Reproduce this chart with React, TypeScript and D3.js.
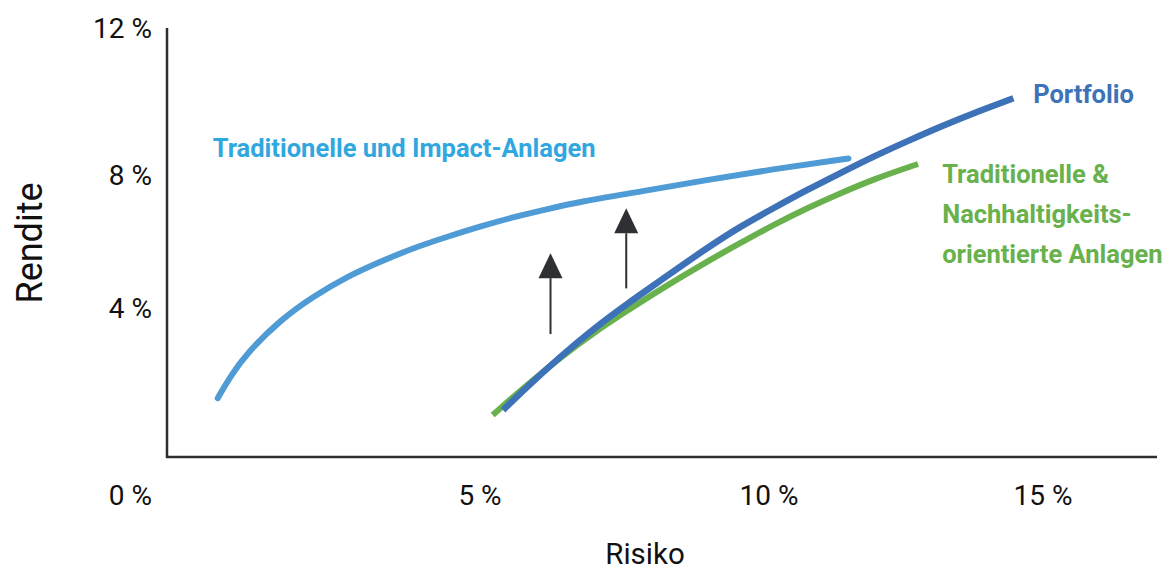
import React from "react";
import * as d3 from "d3";

// Axis ticks
const X_TICKS = [0, 5, 10, 15];
const X_TICK_LABELS = ["0 %", "5 %", "10 %", "15 %"];
const Y_TICKS = [0, 4, 8, 12];
const Y_TICK_LABELS = ["0 %", "4 %", "8 %", "12 %"];

// Series: Traditionelle und Impact-Anlagen
const impactRisk = [0.81, 1.01, 1.27, 1.81, 2.33, 2.87, 3.4, 3.93, 4.47, 5.0, 5.57, 6.15, 6.73, 7.77, 8.92, 10.08, 11.45];
const impactReturn = [1.58, 2.16, 2.78, 3.68, 4.34, 4.94, 5.39, 5.8, 6.14, 6.45, 6.73, 6.97, 7.2, 7.5, 7.85, 8.16, 8.45];

// Series: Traditionelle & Nachhaltigkeitsorientierte Anlagen
const esgRisk = [5.22, 5.81, 6.38, 6.96, 7.54, 8.11, 8.92, 9.5, 10.08, 10.69, 11.3, 11.9, 12.72];
const esgReturn = [1.13, 1.93, 2.66, 3.33, 3.92, 4.55, 5.39, 5.95, 6.5, 7.0, 7.45, 7.87, 8.3];

// Series: Portfolio
const portfolioRisk = [5.4, 5.81, 6.38, 6.96, 7.54, 8.11, 8.92, 9.5, 10.08, 10.69, 11.3, 11.9, 12.51, 13.12, 13.73, 14.46];
const portfolioReturn = [1.26, 1.88, 2.68, 3.44, 4.12, 4.81, 5.8, 6.45, 7.0, 7.55, 8.05, 8.5, 8.91, 9.31, 9.68, 10.09];

// Arrows (risk, from return, to return)
const arrowRisk = [6.22, 7.53];
const arrowFrom = [3.3, 4.59];
const arrowTo = [5.65, 7.0];

// Labels
const impactLabel = ["Traditionelle und Impact-Anlagen"];
const impactLabelPos = [0.73, 8.49];
const portfolioLabel = ["Portfolio"];
const portfolioLabelPos = [14.82, 9.96];
const esgLabel = ["Traditionelle &", "Nachhaltigkeits-", "orientierte Anlagen"];
const esgLabelPos = [13.16, 7.76];

const W = 1166;
const H = 572;

const C_IMPACT = "#4f9bd5";
const C_IMPACT_TEXT = "#30a7df";
const C_PORT = "#3d72b8";
const C_ESG = "#68b14c";
const C_AXIS = "#2c2e32";
const FONT = "Roboto, 'DejaVu Sans', sans-serif";

export default function App() {
  const x = d3.scaleLinear().domain(X_TICKS).range([167, 480, 769, 1043]);
  const y = d3.scaleLinear().domain(Y_TICKS).range([457, 308, 175, 28]);

  const line = d3
    .line<[number, number]>()
    .x((d) => x(d[0]))
    .y((d) => y(d[1]))
    .curve(d3.curveBasis);

  const zip = (a: number[], b: number[]) => a.map((v, i) => [v, b[i]] as [number, number]);

  const x0 = x(0);
  const y0 = y(0);
  const xAxisEnd = 1157;
  const tickLabelRight = x0 - 15;
  const xLabelBaseline = y0 + 48;

  return (
    <svg
      width={W}
      height={H}
      viewBox={`0 0 ${W} ${H}`}
      style={{ position: "absolute", left: 0, top: 0, display: "block", background: "#fff" }}
      fontFamily={FONT}
    >
      {/* axes */}
      <line x1={x0} y1={y(12)} x2={x0} y2={y0 + 1} stroke={C_AXIS} strokeWidth={2.5} />
      <line x1={x0 - 1} y1={y0} x2={xAxisEnd} y2={y0} stroke={C_AXIS} strokeWidth={2.5} />

      {/* y tick labels */}
      {Y_TICKS.map((t, i) =>
        t === 0 ? null : (
          <text key={"y" + t} x={tickLabelRight} y={y(t)} dy="0.34em" textAnchor="end" fontSize={28} fill="#111">
            {Y_TICK_LABELS[i]}
          </text>
        )
      )}
      {/* x tick labels (0 % sits at the corner) */}
      {X_TICKS.map((t, i) =>
        t === 0 ? (
          <text key={"x" + t} x={tickLabelRight} y={xLabelBaseline} textAnchor="end" fontSize={28} fill="#111">
            {X_TICK_LABELS[i]}
          </text>
        ) : (
          <text key={"x" + t} x={x(t)} y={xLabelBaseline} textAnchor="middle" fontSize={28} fill="#111">
            {X_TICK_LABELS[i]}
          </text>
        )
      )}

      {/* axis titles */}
      <text transform="translate(42,243) rotate(-90)" textAnchor="middle" fontSize={36} fill="#111">
        Rendite
      </text>
      <text x={645} y={564} textAnchor="middle" fontSize={29.5} fill="#111">
        Risiko
      </text>

      {/* curves */}
      <path d={line(zip(impactRisk, impactReturn)) || ""} fill="none" stroke={C_IMPACT} strokeWidth={6} strokeLinecap="round" />
      <path d={line(zip(esgRisk, esgReturn)) || ""} fill="none" stroke={C_ESG} strokeWidth={6} strokeLinecap="butt" />
      <path d={line(zip(portfolioRisk, portfolioReturn)) || ""} fill="none" stroke={C_PORT} strokeWidth={6.5} strokeLinecap="butt" />

      {/* arrows */}
      {arrowRisk.map((r, i) => {
        const ax = x(r);
        const tip = y(arrowTo[i]);
        const base = tip + 25;
        return (
          <g key={"a" + i}>
            <line x1={ax} y1={y(arrowFrom[i])} x2={ax} y2={base} stroke="#2f3033" strokeWidth={2} />
            <path d={`M${ax},${tip} L${ax + 12},${base} L${ax - 12},${base} Z`} fill="#2f3033" />
          </g>
        );
      })}

      {/* labels */}
      <text x={x(impactLabelPos[0])} y={y(impactLabelPos[1])} fontSize={25.5} fontWeight={700} fill={C_IMPACT_TEXT}>
        {impactLabel[0]}
      </text>
      <text x={x(portfolioLabelPos[0])} y={y(portfolioLabelPos[1])} fontSize={25.5} fontWeight={700} fill={C_PORT}>
        {portfolioLabel[0]}
      </text>
      {esgLabel.map((s, i) => (
        <text key={s} x={x(esgLabelPos[0])} y={y(esgLabelPos[1]) + i * 40} fontSize={25.5} fontWeight={700} fill={C_ESG}>
          {s}
        </text>
      ))}
    </svg>
  );
}
